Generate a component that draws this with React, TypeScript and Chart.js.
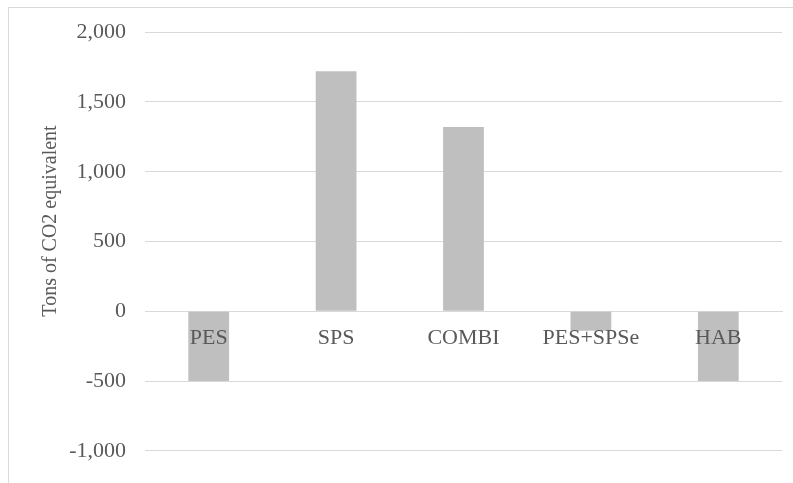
import React, { useEffect, useRef } from "react";
import { Chart, registerables } from "chart.js";

Chart.register(...registerables);

const categories = ["PES", "SPS", "COMBI", "PES+SPSe", "HAB"];
const values = [-500, 1720, 1320, -140, -500];
const yMin = -1000;
const yMax = 2000;
const yStep = 500;
const yAxisTitle = "Tons of CO2 equivalent";

const FONT = "'Liberation Serif', 'Times New Roman', serif";
const TEXT = "#595959";
const GRID = "#d9d9d9";
const BAR = "#bfbfbf";

export default function App() {
  const ref = useRef<HTMLCanvasElement | null>(null);

  useEffect(() => {
    if (!ref.current) return;
    const textPlugin = {
      id: "customText",
      afterDatasetsDraw(chart: any) {
        const ctx = chart.ctx;
        const xs = chart.scales.x;
        const ys = chart.scales.y;
        // category labels next to the zero line, above the bars
        ctx.save();
        ctx.font = `22px ${FONT}`;
        ctx.fillStyle = TEXT;
        ctx.textAlign = "center";
        ctx.textBaseline = "alphabetic";
        const zeroY = ys.getPixelForValue(0);
        categories.forEach((c, i) => {
          ctx.fillText(c, xs.getPixelForTick(i), zeroY + 32.5);
        });
        ctx.restore();
        // y-axis title
        ctx.save();
        ctx.translate(51, 221);
        ctx.rotate(-Math.PI / 2);
        ctx.font = `20px ${FONT}`;
        ctx.fillStyle = TEXT;
        ctx.textAlign = "center";
        ctx.textBaseline = "middle";
        ctx.fillText(yAxisTitle, 0, 0);
        ctx.restore();
      },
    };
    const chart = new Chart(ref.current, {
      type: "bar",
      data: {
        labels: categories,
        datasets: [
          {
            data: values,
            backgroundColor: BAR,
            borderWidth: 0,
            barPercentage: 0.32,
            categoryPercentage: 1,
          },
        ],
      },
      options: {
        animation: false,
        responsive: false,
        maintainAspectRatio: false,
        layout: { padding: { top: 32, bottom: 21, right: 11, left: 0 } },
        plugins: { legend: { display: false }, tooltip: { enabled: false }, title: { display: false } },
        scales: {
          x: {
            position: { y: 0 } as any,
            grid: { display: false, drawTicks: false },
            border: { display: true, color: GRID, width: 1 },
            ticks: { display: false },
          },
          y: {
            min: yMin,
            max: yMax,
            afterFit(scale: any) {
              scale.width = 145;
            },
            grid: { color: GRID, lineWidth: 1, drawTicks: false },
            border: { display: false },
            ticks: {
              stepSize: yStep,
              color: TEXT,
              font: { family: FONT, size: 22 },
              padding: 19,
              callback: (v: any) => Number(v).toLocaleString("en-US"),
            },
          },
        },
      },
      plugins: [textPlugin],
    });
    return () => chart.destroy();
  }, []);

  return (
    <div style={{ position: "fixed", left: 0, top: 0, width: 793, height: 483, overflow: "hidden", background: "#fff" }}>
      <canvas ref={ref} width={793} height={483} style={{ position: "absolute", left: 0, top: 0 }} />
      <div
        style={{
          position: "absolute",
          left: 8,
          top: 7,
          width: 785,
          height: 476,
          borderTop: `1px solid ${GRID}`,
          borderLeft: `1px solid ${GRID}`,
          pointerEvents: "none",
        }}
      />
    </div>
  );
}
